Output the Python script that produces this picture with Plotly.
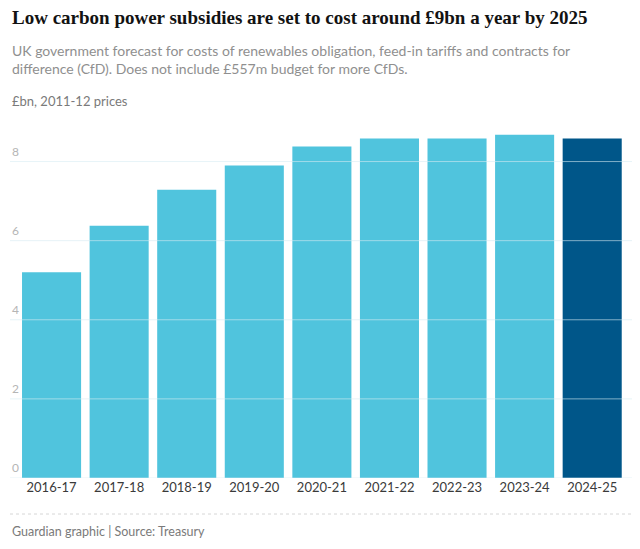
import plotly.graph_objects as go

years = ["2016-17", "2017-18", "2018-19", "2019-20", "2020-21",
         "2021-22", "2022-23", "2023-24", "2024-25"]
costs = [5.2, 6.38, 7.29, 7.9, 8.38, 8.58, 8.58, 8.68, 8.58]
bar_colors = ["#50c4dd"] * 8 + ["#005689"]
grid_vals = [0, 2, 4, 6, 8]

OFF = 8  # page body margin
TOP, BOT, H, W = 122 - OFF, 478 - OFF, 549, 640


def py(p):
    p = p - OFF
    return (BOT - p) / (BOT - TOP)


fig = go.Figure(go.Bar(
    x=list(range(len(years))), y=costs,
    marker=dict(color=bar_colors, line=dict(width=0)),
    hoverinfo="skip",
))

shapes = []
for v in grid_vals:
    shapes.append(dict(type="line", xref="paper", yref="y", x0=0, x1=1, y0=v, y1=v,
                       line=dict(color="rgba(215,235,242,0.6)", width=1), layer="above"))
shapes.append(dict(type="line", xref="paper", yref="paper", x0=0, x1=1.0,
                   y0=py(514), y1=py(514),
                   line=dict(color="#d6d6d6", width=1, dash="dot")))

annotations = [
    dict(text="<b>Low carbon power subsidies are set to cost around £9bn a year by 2025</b>",
         xref="paper", yref="paper", x=0, y=py(18), xanchor="left", yanchor="middle",
         showarrow=False, font=dict(family="Liberation Serif", size=19, color="#121212")),
    dict(text="UK government forecast for costs of renewables obligation, feed-in tariffs and contracts for<br>difference (CfD). Does not include £557m budget for more CfDs.",
         xref="paper", yref="paper", x=0, y=py(59), xanchor="left", yanchor="middle", align="left",
         showarrow=False, font=dict(family="Lato", size=14, color="#8f8f8f")),
    dict(text="£bn, 2011-12 prices",
         xref="paper", yref="paper", x=0, y=py(101), xanchor="left", yanchor="middle",
         showarrow=False, font=dict(family="Lato", size=13, color="#7a7a7a")),
    dict(text="Guardian graphic | Source: Treasury",
         xref="paper", yref="paper", x=0, y=py(531), xanchor="left", yanchor="middle",
         showarrow=False, font=dict(family="Lato", size=12.5, color="#7a7a7a")),
]
for v in grid_vals:
    annotations.append(dict(text=str(v), xref="paper", yref="y", x=0, y=v,
                            xanchor="left", yanchor="bottom", yshift=1, showarrow=False,
                            font=dict(family="Lato", size=12, color="#b5b5b5")))

fig.update_layout(
    width=W, height=H,
    margin=dict(l=10 - OFF, r=W - (632 - OFF), t=TOP, b=H - BOT, pad=0),
    paper_bgcolor="white", plot_bgcolor="white",
    bargap=0.126,
    showlegend=False,
    xaxis=dict(range=[-0.615, 8.589], tickvals=list(range(len(years))), ticktext=years,
               showgrid=False, zeroline=False, showline=False, ticks="",
               tickfont=dict(family="Lato", size=13, color="#3a3a3a")),
    yaxis=dict(range=[0, 9], showgrid=False, zeroline=False, showticklabels=False, ticks=""),
    shapes=shapes,
    annotations=annotations,
)

fig.write_html("out.html")
